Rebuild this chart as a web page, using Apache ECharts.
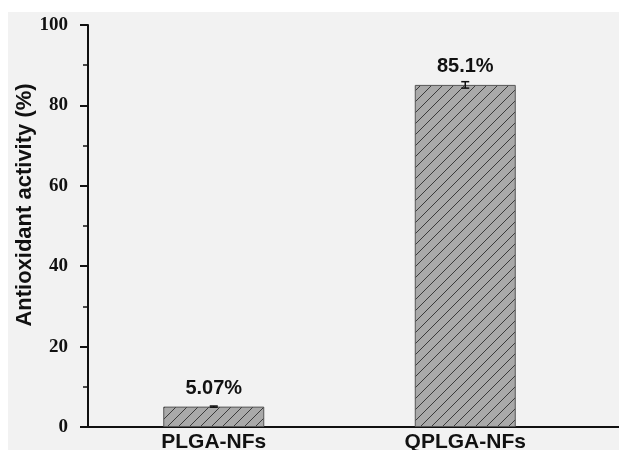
<!DOCTYPE html>
<html>
<head>
<meta charset="utf-8">
<script src="https://cdn.jsdelivr.net/npm/echarts@6/dist/echarts.min.js"></script>
<style>
  html, body { margin: 0; padding: 0; background: #ffffff; }
  #chart { width: 619px; height: 450px; }
</style>
</head>
<body>
<div id="chart"></div>
<script>
// Antioxidant activity of the two nanofiber samples
const categories = ['PLGA-NFs', 'QPLGA-NFs'];
const activity = [5.07, 85.1];
const activityError = [0.15, 0.8];
const valueLabels = ['5.07%', '85.1%'];
const yTicks = [0, 20, 40, 60, 80, 100];

// Diagonal hatch fill for the bars
function makeHatch() {
  const c = document.createElement('canvas');
  const s = 11;
  c.width = s; c.height = s;
  const ctx = c.getContext('2d');
  ctx.fillStyle = '#a9a9a9';
  ctx.fillRect(0, 0, s, s);
  ctx.strokeStyle = '#2e2e2e';
  ctx.lineWidth = 0.9;
  ctx.beginPath();
  ctx.moveTo(-1, s + 1); ctx.lineTo(s + 1, -1);
  ctx.moveTo(-1 - s, s + 1); ctx.lineTo(1, -1);
  ctx.moveTo(s - 1, 2 * s + 1); ctx.lineTo(2 * s + 1, s - 1);
  ctx.stroke();
  return c;
}

const chart = echarts.init(document.getElementById('chart'), null, { renderer: 'canvas' });

const serif = '"Liberation Serif", "Times New Roman", serif';
const sans = '"Liberation Sans", Arial, sans-serif';

chart.setOption({
  backgroundColor: '#ffffff',
  animation: false,
  graphic: [
    { type: 'rect', z: -10, silent: true, shape: { x: 8, y: 12, width: 611, height: 438 }, style: { fill: '#f2f2f2' } },
    { type: 'line', z: 10, silent: true, shape: { x1: 590, y1: 427, x2: 619, y2: 427 }, style: { stroke: '#111', lineWidth: 2 } }
  ],
  grid: { left: 88, right: 28, top: 25, bottom: 23, containLabel: false, outerBoundsMode: 'none' },
  xAxis: {
    type: 'category',
    data: categories,
    axisLine: { lineStyle: { color: '#111', width: 2 } },
    axisTick: { show: false },
    axisLabel: {
      margin: 5,
      color: '#111',
      fontFamily: sans,
      fontWeight: 'bold',
      fontSize: 21
    }
  },
  yAxis: {
    type: 'value',
    min: 0,
    max: 100,
    interval: 20,
    name: 'Antioxidant activity (%)',
    nameLocation: 'middle',
    nameGap: 52,
    nameMoveOverlap: false,
    nameTextStyle: { color: '#111', fontFamily: sans, fontWeight: 'bold', fontSize: 22, padding: [0, 0, 0, 42] },
    splitLine: { show: false },
    axisLine: { show: true, lineStyle: { color: '#111', width: 2 } },
    axisTick: { show: true, inside: false, length: 8, lineStyle: { color: '#111', width: 2 } },
    minorTick: { show: true, splitNumber: 2, length: 5, lineStyle: { color: '#111', width: 1.5 } },
    axisLabel: {
      margin: 20,
      color: '#111',
      fontFamily: serif,
      fontWeight: 'bold',
      fontSize: 19,
      formatter: function (v) { return yTicks.indexOf(v) >= 0 ? String(v) : ''; }
    }
  },
  series: [
    {
      type: 'bar',
      data: activity,
      barWidth: 101,
      itemStyle: {
        color: { image: makeHatch(), repeat: 'repeat' },
        borderColor: '#555555',
        borderWidth: 1
      },
      label: {
        show: true,
        position: 'top',
        distance: 8,
        color: '#111',
        fontFamily: sans,
        fontWeight: 'bold',
        fontSize: 20,
        formatter: function (p) { return valueLabels[p.dataIndex]; }
      }
    },
    {
      type: 'custom',
      z: 5,
      data: activity.map(function (v, i) { return [i, v, activityError[i]]; }),
      renderItem: function (params, api) {
        const x = api.coord([api.value(0), 0])[0];
        const hi = api.coord([api.value(0), api.value(1) + api.value(2)])[1];
        const lo = api.coord([api.value(0), api.value(1) - api.value(2)])[1];
        const w = 4;
        const st = { stroke: '#111', lineWidth: 1.5 };
        return {
          type: 'group',
          children: [
            { type: 'line', shape: { x1: x, y1: hi, x2: x, y2: lo }, style: st },
            { type: 'line', shape: { x1: x - w, y1: hi, x2: x + w, y2: hi }, style: st },
            { type: 'line', shape: { x1: x - w, y1: lo, x2: x + w, y2: lo }, style: st }
          ]
        };
      }
    }
  ]
});
</script>
</body>
</html>
